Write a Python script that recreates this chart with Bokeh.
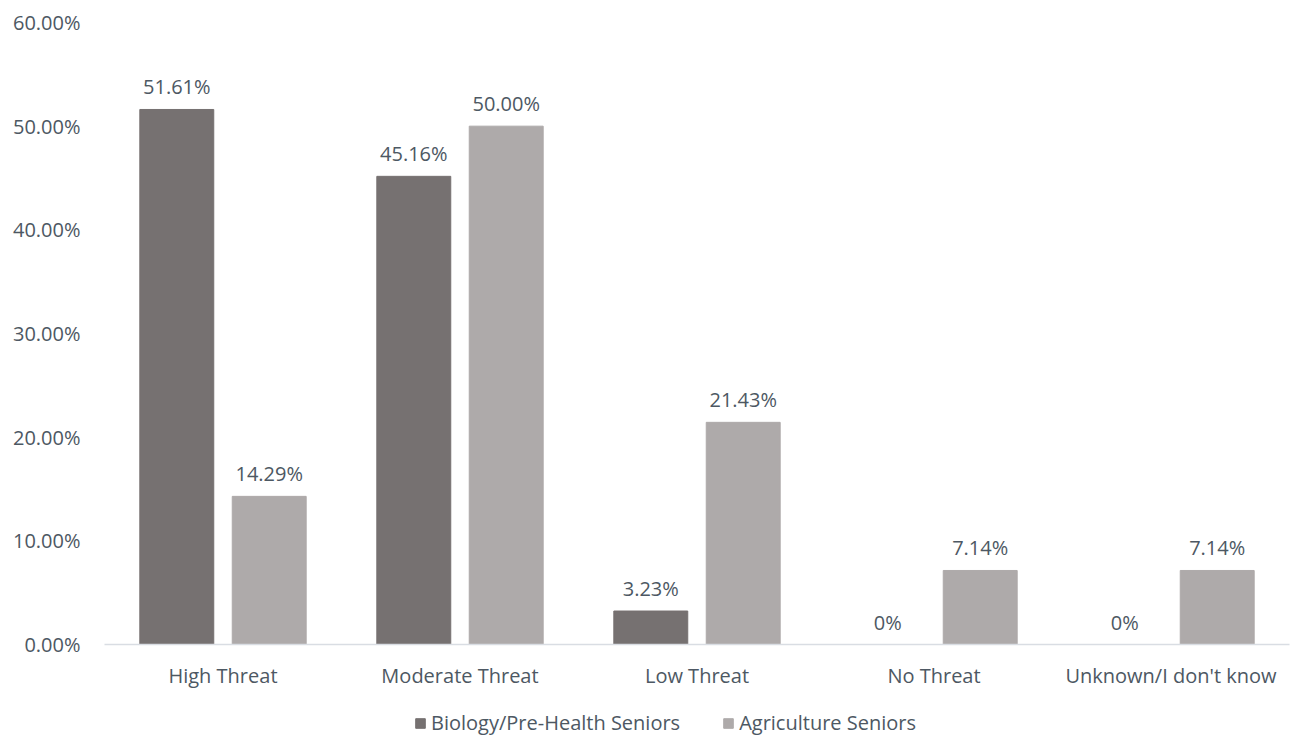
from bokeh.plotting import figure
from bokeh.layouts import column
from bokeh.models import ColumnDataSource, FactorRange, Legend, LegendItem, Range1d
from bokeh.core.properties import value
from bokeh.transform import dodge
from bokeh.embed import file_html
from bokeh.resources import INLINE

categories = ["High Threat", "Moderate Threat", "Low Threat", "No Threat", "Unknown/I don't know"]
biology = [51.61, 45.16, 3.23, 0.0, 0.0]
agriculture = [14.29, 50.00, 21.43, 7.14, 7.14]
bio_labels = ["51.61%", "45.16%", "3.23%", "0%", "0%"]
agr_labels = ["14.29%", "50.00%", "21.43%", "7.14%", "7.14%"]
series_names = ["Biology/Pre-Health Seniors", "Agriculture Seniors"]
y_ticks = [0, 10, 20, 30, 40, 50, 60]

FONT = "Open Sans"
FS = "20px"
TEXT_COLOR = "#4d5863"
DARK = "#767171"
LIGHT = "#aeaaaa"

src = ColumnDataSource(dict(cat=categories, bio=biology, agr=agriculture,
                            bio_lbl=bio_labels, agr_lbl=agr_labels))

p = figure(x_range=FactorRange(*categories), y_range=Range1d(0, 60),
           frame_width=1185, frame_height=622, output_backend="svg", toolbar_location=None,
           min_border_left=104, min_border_right=6, min_border_top=22, min_border_bottom=60)

p.vbar(x=dodge("cat", -0.195, range=p.x_range), top="bio", width=0.312,
       source=src, color=DARK)
p.vbar(x=dodge("cat", 0.195, range=p.x_range), top="agr", width=0.312,
       source=src, color=LIGHT)

for col, lbl, off in (("bio", "bio_lbl", -0.195), ("agr", "agr_lbl", 0.195)):
    p.text(x=dodge("cat", off, range=p.x_range), y=col, text=lbl, source=src,
           text_align="center", text_baseline="bottom", y_offset=-9,
           text_font=value(FONT), text_font_size=FS, text_color=TEXT_COLOR)

p.xgrid.visible = False
p.ygrid.visible = False
p.outline_line_color = None
p.x_range.range_padding = 0
p.x_range.group_padding = 0

p.yaxis.ticker = y_ticks
p.yaxis.major_label_overrides = {t: f"{t:.2f}%" for t in y_ticks}
p.yaxis.axis_line_color = None
p.yaxis.major_tick_line_color = None
p.yaxis.minor_tick_line_color = None
p.yaxis.major_tick_out = 0
p.yaxis.major_label_standoff = 24
p.yaxis.major_label_text_font = FONT
p.yaxis.major_label_text_font_size = FS
p.yaxis.major_label_text_color = TEXT_COLOR

p.xaxis.axis_line_color = "#d9dde3"
p.xaxis.axis_line_width = 1.5
p.xaxis.major_tick_line_color = None
p.xaxis.minor_tick_line_color = None
p.xaxis.major_tick_out = 0
p.xaxis.major_label_standoff = 17
p.xaxis.major_label_text_font = FONT
p.xaxis.major_label_text_font_size = FS
p.xaxis.major_label_text_color = TEXT_COLOR

# legend strip under the chart; its key glyphs sit outside the strip's visible range
leg = figure(width=1295, height=32, x_range=(0, 1), y_range=(0, 1),
             output_backend="svg", toolbar_location=None,
             min_border=0, outline_line_color=None)
leg.axis.visible = False
leg.grid.visible = False
k_bio = leg.vbar(x=[-5], top=[-5], bottom=[-6], width=0.1, color=DARK)
k_agr = leg.vbar(x=[-5], top=[-5], bottom=[-6], width=0.1, color=LIGHT)
legend = Legend(items=[LegendItem(label=series_names[0], renderers=[k_bio]),
                       LegendItem(label=series_names[1], renderers=[k_agr])],
                orientation="horizontal", location=(310, 0),
                glyph_width=12, glyph_height=12, label_standoff=5, spacing=42,
                label_text_font=FONT, label_text_font_size=FS,
                label_text_color=TEXT_COLOR, border_line_color=None,
                background_fill_alpha=0, padding=0, margin=0)
leg.add_layout(legend, "center")

open("out.html", "w").write(file_html(column(p, leg, spacing=0), INLINE))
